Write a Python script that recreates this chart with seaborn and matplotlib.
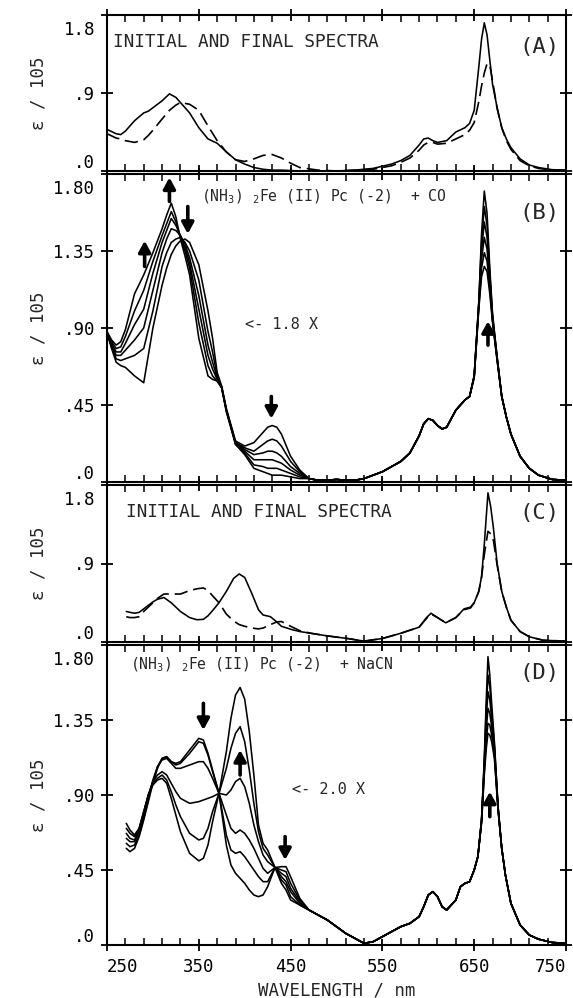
import matplotlib
matplotlib.use("Agg")
import matplotlib.pyplot as plt
import seaborn as sns
from matplotlib.transforms import ScaledTranslation

# ---------------- data ----------------
# panel A: initial (dashed) and final (solid) spectra, CO reaction
wl_a = [250, 260, 265, 270, 280, 290, 295, 300, 310, 318, 325, 330, 340, 350, 360,
        370, 380, 390, 400, 410, 420, 430, 440, 450, 460, 480, 500, 520, 540, 560,
        570, 580, 590, 595, 600, 605, 610, 620, 630, 640, 645, 650, 655, 658, 661,
        664, 667, 670, 675, 680, 685, 690, 700, 710, 720, 735, 750]
a_final = [0.48, 0.43, 0.42, 0.46, 0.58, 0.67, 0.69, 0.73, 0.81, 0.89, 0.85, 0.79, 0.67, 0.50, 0.37,
           0.32, 0.22, 0.13, 0.08, 0.04, 0.02, 0.01, 0.01, 0.005, 0.0, 0.0, 0.0, 0.01, 0.03, 0.08,
           0.12, 0.18, 0.30, 0.37, 0.38, 0.35, 0.33, 0.35, 0.45, 0.50, 0.55, 0.70, 1.20, 1.52, 1.71,
           1.57, 1.28, 1.00, 0.73, 0.50, 0.37, 0.27, 0.14, 0.07, 0.04, 0.015, 0.01]
a_initial = [0.43, 0.38, 0.37, 0.35, 0.33, 0.36, 0.41, 0.47, 0.60, 0.70, 0.76, 0.79, 0.77, 0.70, 0.52,
             0.35, 0.22, 0.13, 0.11, 0.14, 0.18, 0.19, 0.15, 0.09, 0.04, 0.01, 0.0, 0.01, 0.02, 0.06,
             0.10, 0.15, 0.24, 0.30, 0.33, 0.33, 0.31, 0.32, 0.37, 0.42, 0.47, 0.56, 0.80, 0.98, 1.13,
             1.24, 1.22, 1.04, 0.72, 0.50, 0.35, 0.25, 0.12, 0.06, 0.03, 0.01, 0.01]

# panel B: six spectra during the CO reaction (final first)
wl_b_uv = [250, 255, 260, 265, 270, 280, 290, 300, 310, 315, 320, 325, 330, 335, 340,
           350, 360, 365, 370, 375, 380, 390, 400, 410, 420, 425, 430, 435, 440, 450, 460]
b_uv = [
    [0.88, 0.83, 0.80, 0.82, 0.89, 1.10, 1.21, 1.34, 1.48, 1.56, 1.63, 1.55, 1.42, 1.32, 1.21,
     0.84, 0.62, 0.60, 0.59, 0.55, 0.41, 0.22, 0.16, 0.08, 0.06, 0.05, 0.04, 0.04, 0.04, 0.03, 0.02],
    [0.87, 0.82, 0.78, 0.79, 0.85, 1.00, 1.12, 1.29, 1.44, 1.51, 1.58, 1.52, 1.43, 1.35, 1.25,
     0.93, 0.68, 0.62, 0.59, 0.55, 0.42, 0.22, 0.17, 0.10, 0.09, 0.08, 0.08, 0.08, 0.07, 0.05, 0.03],
    [0.87, 0.81, 0.76, 0.76, 0.81, 0.92, 1.01, 1.22, 1.40, 1.47, 1.54, 1.50, 1.44, 1.37, 1.28,
     1.01, 0.74, 0.66, 0.60, 0.55, 0.42, 0.23, 0.18, 0.13, 0.13, 0.13, 0.13, 0.12, 0.11, 0.07, 0.04],
    [0.87, 0.80, 0.74, 0.74, 0.77, 0.83, 0.90, 1.12, 1.34, 1.42, 1.48, 1.47, 1.44, 1.39, 1.31,
     1.09, 0.80, 0.70, 0.61, 0.55, 0.42, 0.23, 0.19, 0.16, 0.17, 0.18, 0.18, 0.17, 0.15, 0.09, 0.05],
    [0.87, 0.79, 0.72, 0.71, 0.72, 0.74, 0.78, 1.00, 1.26, 1.34, 1.40, 1.42, 1.43, 1.40, 1.35,
     1.18, 0.88, 0.76, 0.62, 0.55, 0.42, 0.23, 0.20, 0.18, 0.22, 0.24, 0.25, 0.24, 0.21, 0.12, 0.06],
    [0.87, 0.78, 0.70, 0.68, 0.67, 0.62, 0.58, 0.90, 1.15, 1.25, 1.33, 1.38, 1.41, 1.42, 1.40,
     1.27, 1.00, 0.84, 0.64, 0.56, 0.43, 0.24, 0.21, 0.23, 0.29, 0.32, 0.33, 0.32, 0.28, 0.15, 0.07],
]
wl_b_vis = [470, 480, 490, 500, 510, 520, 530, 540, 550, 560, 570, 580, 590, 595, 600,
            605, 610, 615, 620, 630, 640, 645]
b_vis = [0.02, 0.01, 0.01, 0.015, 0.01, 0.01, 0.02, 0.04, 0.06, 0.09, 0.12, 0.17, 0.27, 0.34, 0.37,
         0.36, 0.33, 0.31, 0.32, 0.42, 0.48, 0.50]
wl_bq = [650, 655, 658, 661, 664, 667, 670, 675, 680, 685, 690, 700, 710, 720, 735, 750]
b_q = [
    [0.62, 1.05, 1.45, 1.70, 1.57, 1.25, 0.98, 0.73, 0.50, 0.38, 0.28, 0.15, 0.08, 0.04, 0.015, 0.01],
    [0.62, 1.05, 1.40, 1.61, 1.50, 1.22, 0.97, 0.73, 0.50, 0.38, 0.28, 0.15, 0.08, 0.04, 0.015, 0.01],
    [0.62, 1.04, 1.35, 1.52, 1.43, 1.19, 0.96, 0.72, 0.50, 0.38, 0.28, 0.15, 0.08, 0.04, 0.015, 0.01],
    [0.62, 1.03, 1.30, 1.43, 1.36, 1.16, 0.95, 0.72, 0.50, 0.38, 0.28, 0.15, 0.08, 0.04, 0.015, 0.01],
    [0.61, 1.02, 1.25, 1.34, 1.29, 1.13, 0.94, 0.71, 0.50, 0.38, 0.28, 0.15, 0.08, 0.04, 0.015, 0.01],
    [0.61, 1.01, 1.20, 1.26, 1.23, 1.10, 0.93, 0.71, 0.50, 0.38, 0.28, 0.15, 0.08, 0.04, 0.015, 0.01],
]

# panel C: initial (dashed) and final (solid) spectra, NaCN reaction
wl_c = [271, 275, 280, 285, 290, 300, 305, 312, 320, 330, 340, 348, 355, 360, 365,
        372, 380, 388, 394, 400, 408, 415, 420, 428, 435, 440, 452, 460, 472, 490,
        512, 530, 550, 570, 590, 598, 603, 610, 619, 630, 639, 646, 650, 655, 658,
        661, 665, 668, 671, 675, 680, 685, 690, 700, 710, 725, 750]
c_final = [0.35, 0.34, 0.33, 0.34, 0.38, 0.46, 0.49, 0.51, 0.45, 0.35, 0.28, 0.255, 0.26, 0.30, 0.36,
           0.45, 0.58, 0.73, 0.78, 0.74, 0.55, 0.37, 0.31, 0.29, 0.23, 0.18, 0.14, 0.12, 0.10, 0.07,
           0.04, 0.01, 0.04, 0.10, 0.17, 0.28, 0.33, 0.28, 0.22, 0.28, 0.38, 0.40, 0.45, 0.58, 0.75,
           1.12, 1.71, 1.55, 1.30, 0.90, 0.58, 0.40, 0.25, 0.12, 0.06, 0.02, 0.01]
c_initial = [0.29, 0.28, 0.28, 0.29, 0.35, 0.45, 0.50, 0.55, 0.55, 0.55, 0.59, 0.61, 0.62, 0.59, 0.53,
             0.45, 0.32, 0.24, 0.20, 0.18, 0.16, 0.15, 0.16, 0.20, 0.23, 0.235, 0.17, 0.13, 0.10, 0.07,
             0.04, 0.01, 0.04, 0.10, 0.17, 0.27, 0.32, 0.28, 0.22, 0.28, 0.37, 0.39, 0.45, 0.58, 0.74,
             1.00, 1.27, 1.24, 1.16, 0.88, 0.58, 0.40, 0.25, 0.12, 0.06, 0.02, 0.01]

# panel D: six spectra during the NaCN reaction (final first)
wl_d_uv = [271, 275, 280, 285, 290, 295, 300, 305, 310, 315, 320, 325, 330, 340, 350,
           355, 360, 365, 372, 380, 385, 390, 395, 400, 405, 410, 415, 420, 425, 433,
           440, 445, 450, 460]
d_uv = [
    [0.73, 0.69, 0.66, 0.70, 0.80, 0.90, 0.96, 0.99, 1.00, 0.97, 0.88, 0.78, 0.68, 0.55, 0.505,
     0.52, 0.60, 0.74, 0.91, 1.16, 1.36, 1.50, 1.545, 1.475, 1.28, 1.02, 0.72, 0.61, 0.57, 0.465,
     0.37, 0.33, 0.27, 0.24],
    [0.70, 0.67, 0.65, 0.70, 0.80, 0.90, 0.97, 1.00, 1.02, 0.99, 0.92, 0.84, 0.77, 0.67, 0.63,
     0.64, 0.70, 0.80, 0.91, 1.06, 1.18, 1.27, 1.31, 1.22, 1.05, 0.85, 0.68, 0.58, 0.54, 0.465,
     0.39, 0.36, 0.29, 0.24],
    [0.67, 0.64, 0.63, 0.69, 0.79, 0.90, 0.98, 1.02, 1.04, 1.02, 0.97, 0.92, 0.88, 0.85, 0.86,
     0.87, 0.88, 0.89, 0.91, 0.90, 0.93, 0.98, 1.00, 0.95, 0.85, 0.72, 0.62, 0.54, 0.50, 0.465,
     0.41, 0.38, 0.32, 0.25],
    [0.64, 0.62, 0.62, 0.68, 0.78, 0.89, 0.99, 1.07, 1.11, 1.12, 1.09, 1.06, 1.06, 1.08, 1.10,
     1.10, 1.06, 1.00, 0.91, 0.78, 0.70, 0.67, 0.69, 0.67, 0.63, 0.58, 0.52, 0.46, 0.43, 0.465,
     0.43, 0.41, 0.34, 0.26],
    [0.61, 0.59, 0.60, 0.66, 0.76, 0.87, 0.98, 1.07, 1.12, 1.13, 1.10, 1.08, 1.09, 1.15, 1.22,
     1.21, 1.14, 1.04, 0.91, 0.66, 0.57, 0.55, 0.56, 0.53, 0.49, 0.45, 0.41, 0.38, 0.38, 0.465,
     0.45, 0.44, 0.37, 0.27],
    [0.58, 0.56, 0.58, 0.65, 0.75, 0.86, 0.97, 1.06, 1.12, 1.13, 1.10, 1.09, 1.10, 1.17, 1.24,
     1.23, 1.15, 1.05, 0.91, 0.60, 0.48, 0.43, 0.40, 0.37, 0.33, 0.30, 0.29, 0.30, 0.35, 0.465,
     0.47, 0.47, 0.41, 0.28],
]
wl_d_vis = [470, 480, 490, 500, 510, 520, 530, 540, 550, 560, 570, 580, 590, 595, 600,
            605, 610, 615, 620, 630, 635, 640, 645]
d_vis = [0.21, 0.18, 0.15, 0.11, 0.07, 0.04, 0.01, 0.02, 0.05, 0.08, 0.11, 0.13, 0.17, 0.23, 0.30,
         0.32, 0.29, 0.23, 0.21, 0.27, 0.35, 0.37, 0.38]
wl_dq = [650, 654, 658, 661, 663, 665, 667, 669, 672, 676, 680, 684, 690, 700, 710, 720, 735, 750]
d_q = [
    [0.45, 0.53, 0.75, 1.12, 1.45, 1.73, 1.62, 1.45, 1.22, 0.83, 0.58, 0.42, 0.25, 0.12, 0.06, 0.035, 0.015, 0.01],
    [0.45, 0.53, 0.75, 1.10, 1.40, 1.62, 1.55, 1.40, 1.20, 0.83, 0.58, 0.42, 0.25, 0.12, 0.06, 0.035, 0.015, 0.01],
    [0.45, 0.53, 0.75, 1.08, 1.35, 1.52, 1.47, 1.36, 1.18, 0.82, 0.58, 0.42, 0.25, 0.12, 0.06, 0.035, 0.015, 0.01],
    [0.45, 0.53, 0.74, 1.06, 1.28, 1.42, 1.39, 1.31, 1.16, 0.82, 0.58, 0.42, 0.25, 0.12, 0.06, 0.035, 0.015, 0.01],
    [0.45, 0.53, 0.74, 1.04, 1.22, 1.33, 1.32, 1.26, 1.14, 0.81, 0.58, 0.42, 0.25, 0.12, 0.06, 0.035, 0.015, 0.01],
    [0.45, 0.53, 0.73, 1.02, 1.17, 1.27, 1.26, 1.22, 1.12, 0.81, 0.58, 0.42, 0.25, 0.12, 0.06, 0.035, 0.015, 0.01],
]

# arrows: (wavelength, tail, head)
b_arrows = [(318, 1.64, 1.78), (338, 1.61, 1.45), (291, 1.26, 1.41), (429, 0.50, 0.37), (665, 0.80, 0.94)]
d_arrows = [(355, 1.45, 1.29), (395, 1.02, 1.17), (444, 0.65, 0.51), (667, 0.77, 0.92)]

# ---------------- style ----------------
sns.set_style("ticks")
plt.rcParams["font.family"] = ["DejaVu Sans Mono", "DejaVu Sans"]
plt.rcParams["mathtext.fontset"] = "custom"
plt.rcParams["mathtext.rm"] = "DejaVu Sans Mono"
plt.rcParams["mathtext.it"] = "DejaVu Sans Mono"
plt.rcParams["axes.edgecolor"] = "black"
plt.rcParams["xtick.color"] = "black"
plt.rcParams["ytick.color"] = "black"

fig = plt.figure(figsize=(5.73, 9.98), dpi=100)


def add_panel(top_px, bot_px):
    return fig.add_axes([107 / 573, 1 - bot_px / 998, 459 / 573, (bot_px - top_px) / 998])


axA = add_panel(15, 171)
axB = add_panel(174, 482)
axC = add_panel(485, 642)
axD = add_panel(645, 945)


def style(ax, ticks, labels, bottom_labels=False):
    ax.set_xlim(250, 750)
    ax.set_ylim(0, 1.8)
    ax.set_xticks(range(250, 751, 100))
    ax.set_xticks(range(250, 751, 20), minor=True)
    ax.set_yticks(ticks)
    ax.set_yticklabels(labels)
    ax.tick_params(which="major", direction="inout", length=9, width=1.3,
                   top=True, right=True, labelsize=12.5, pad=4)
    ax.tick_params(which="minor", direction="in", length=5, width=1.1, top=True)
    ax.tick_params(axis="x", labelbottom=bottom_labels, pad=5)
    for s in ax.spines.values():
        s.set_linewidth(1.5)
    ax.set_ylabel("ε / 105", fontsize=12.5)
    ax.yaxis.set_label_coords(-0.13, 0.5)
    # keep the end labels inside the panel, as in the original plot
    lab = ax.get_yticklabels()
    lab[0].set_transform(lab[0].get_transform() + ScaledTranslation(0, 0.10, fig.dpi_scale_trans))
    lab[-1].set_transform(lab[-1].get_transform() + ScaledTranslation(0, -0.13, fig.dpi_scale_trans))


def arrow(ax, x, y0, y1):
    ax.annotate("", xy=(x, y1), xytext=(x, y0),
                arrowprops=dict(arrowstyle="-|>,head_length=0.55,head_width=0.3",
                                color="black", lw=2.6, shrinkA=0, shrinkB=0,
                                mutation_scale=12))


lw = 1.15
dash = (0, (8, 3.5))

# panel A
sns.lineplot(x=wl_a, y=a_final, ax=axA, color="black", linewidth=lw)
sns.lineplot(x=wl_a, y=a_initial, ax=axA, color="black", linewidth=1.2, linestyle=dash)
style(axA, [0, 0.9, 1.8], [".0", ".9", "1.8"])
axA.text(0.013, 0.827, "INITIAL AND FINAL SPECTRA", transform=axA.transAxes,
         ha="left", va="center", fontsize=12.8)
axA.text(0.985, 0.795, "(A)", transform=axA.transAxes, ha="right", va="center", fontsize=16)

# panel B
for uv, q in zip(b_uv, b_q):
    sns.lineplot(x=wl_b_uv + wl_b_vis + wl_bq, y=uv + b_vis + q, ax=axB,
                 color="black", linewidth=lw)
style(axB, [0, 0.45, 0.9, 1.35, 1.8], [".0", ".45", ".90", "1.35", "1.80"])
axB.text(0.205, 0.925, r"(NH$_3$) $_2$Fe (II) Pc (-2)  + CO", transform=axB.transAxes,
         ha="left", va="center", fontsize=10.6)
axB.text(0.985, 0.873, "(B)", transform=axB.transAxes, ha="right", va="center", fontsize=16)
axB.text(400, 0.92, "<- 1.8 X", ha="left", va="center", fontsize=11)
for x, y0, y1 in b_arrows:
    arrow(axB, x, y0, y1)

# panel C
sns.lineplot(x=wl_c, y=c_final, ax=axC, color="black", linewidth=lw)
sns.lineplot(x=wl_c, y=c_initial, ax=axC, color="black", linewidth=1.2, linestyle=dash)
style(axC, [0, 0.9, 1.8], [".0", ".9", "1.8"])
axC.text(0.041, 0.828, "INITIAL AND FINAL SPECTRA", transform=axC.transAxes,
         ha="left", va="center", fontsize=12.8)
axC.text(0.985, 0.82, "(C)", transform=axC.transAxes, ha="right", va="center", fontsize=16)

# panel D
for uv, q in zip(d_uv, d_q):
    sns.lineplot(x=wl_d_uv + wl_d_vis + wl_dq, y=uv + d_vis + q, ax=axD,
                 color="black", linewidth=lw)
style(axD, [0, 0.45, 0.9, 1.35, 1.8], [".0", ".45", ".90", "1.35", "1.80"], bottom_labels=True)
axD.text(0.05, 0.933, r"(NH$_3$) $_2$Fe (II) Pc (-2)  + NaCN", transform=axD.transAxes,
         ha="left", va="center", fontsize=10.6)
axD.text(0.985, 0.907, "(D)", transform=axD.transAxes, ha="right", va="center", fontsize=16)
axD.text(451, 0.93, "<- 2.0 X", ha="left", va="center", fontsize=11)
for x, y0, y1 in d_arrows:
    arrow(axD, x, y0, y1)
axD.set_xlabel("WAVELENGTH / nm", fontsize=12.5, labelpad=4)
# end labels of the wavelength axis sit inside the frame
xlab = axD.get_xticklabels()
xlab[0].set_horizontalalignment("left")
xlab[-1].set_horizontalalignment("right")

fig.savefig("out.png", dpi=100)
